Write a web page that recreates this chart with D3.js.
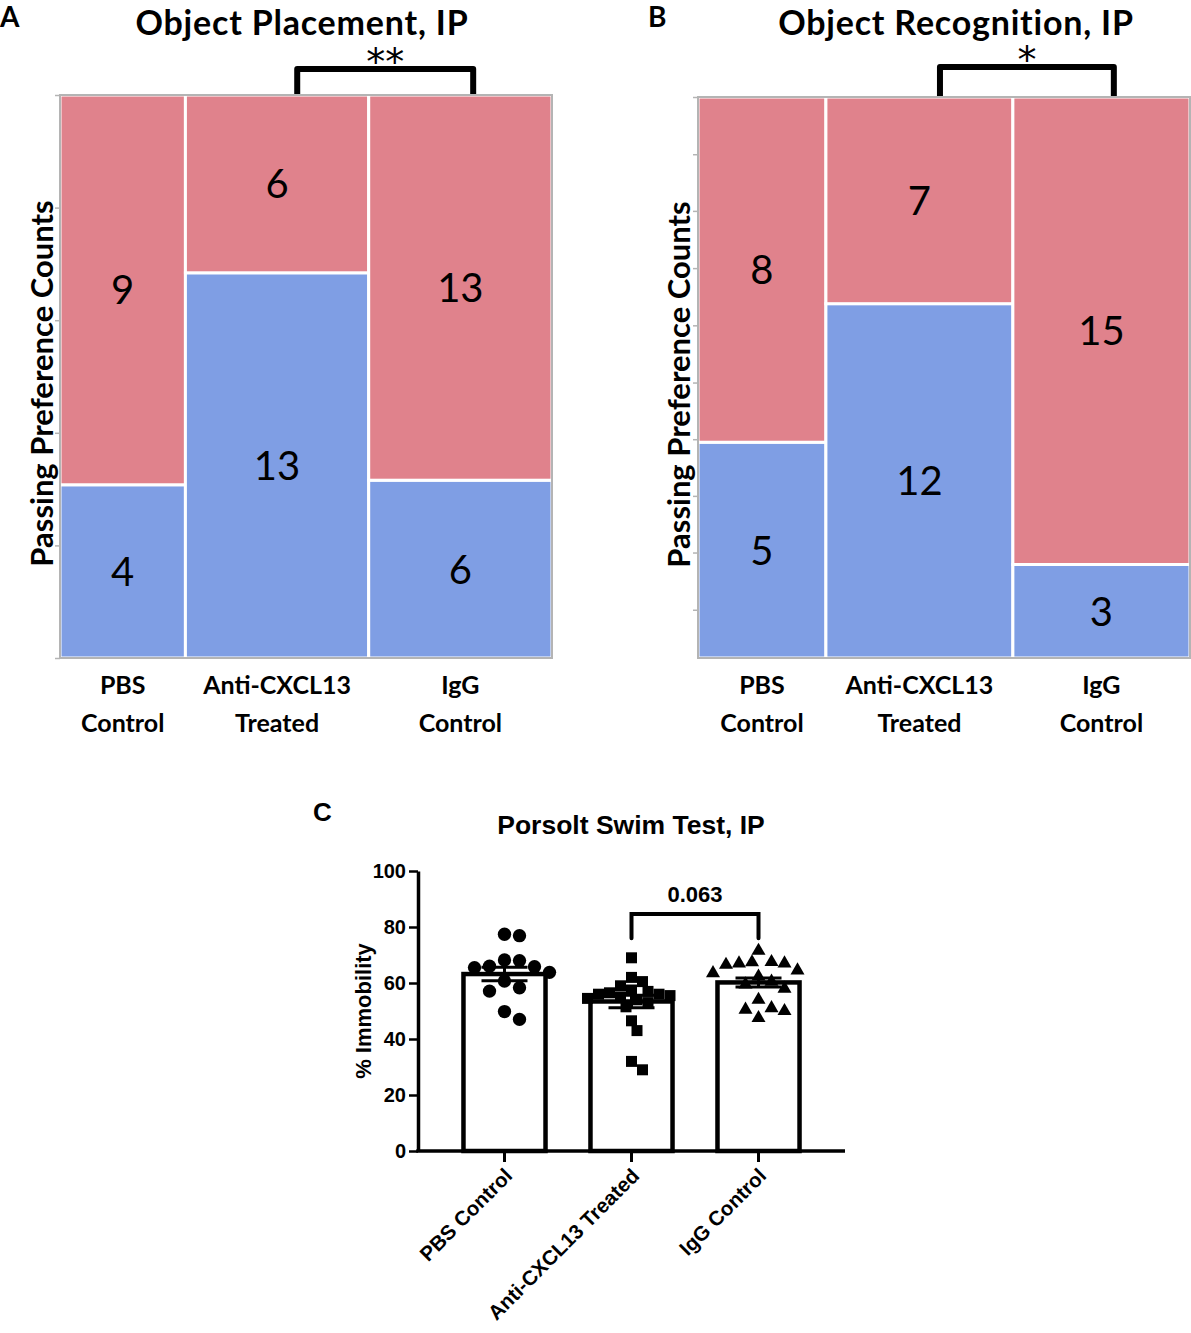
<!DOCTYPE html>
<html>
<head>
<meta charset="utf-8">
<script src="https://cdn.jsdelivr.net/npm/d3@7"></script>
<style>
body{margin:0;background:#fff;}
.mos{font-family:Lato,"Open Sans",sans-serif;}
.prism{font-family:"Liberation Sans",Arial,sans-serif;font-weight:bold;}
</style>
</head>
<body>
<div id="chart"></div>
<script>
var w = 1191;
var h = 1333;

// groups
var groups = ["PBS Control", "Anti-CXCL13 Treated", "IgG Control"];
var groupLines = [["PBS", "Control"], ["Anti-CXCL13", "Treated"], ["IgG", "Control"]];

// A: object placement counts
var placeBlue = [4, 13, 6];
var placeRed = [9, 6, 13];
// B: object recognition counts
var recogBlue = [5, 12, 3];
var recogRed = [8, 7, 15];

var mosTicksA = [0, 0.2, 0.4, 0.6, 0.8, 1];
var mosTicksB = [0.086, 0.188, 0.289, 0.39, 0.491, 0.593, 0.695, 0.797, 0.898, 1];

// C: porsolt swim test, % immobility
var pbsImmob = [77.4, 76.9, 68.2, 68, 66, 65.8, 65.5, 63.8, 60.7, 58.3, 57.1, 49.8, 47];
var antiImmob = [69, 62, 60.5, 59, 57.5, 57, 56.5, 56, 56, 55.5, 55, 54.5, 54, 53, 51.5, 46.5, 43, 32, 29];
var iggImmob = [71.5, 67.5, 67.4, 67, 67, 66.5, 64.5, 63.5, 62.3, 60.5, 59.5, 58, 54, 51, 50.5, 50, 47.5];
var immobMean = [63.2, 53.4, 60.2];
var immobSem = [2.4, 2.2, 1.6];
var immobTicks = [0, 20, 40, 60, 80, 100];

var pink = "#e0828c";
var blue = "#7f9ee4";
var grey = "#b4b4b4";

var svg = d3.select("#chart").append("svg")
  .attr("width", w)
  .attr("height", h);

function drawMosaic(opt){
  var n = opt.blue.map(function(d, i){ return d + opt.red[i]; });
  var cum = [0];
  for (var i = 0; i < n.length; i++) cum.push(cum[i] + n[i]);

  var xScale = d3.scaleLinear().domain([0, cum[n.length]]).range([opt.left, opt.right]);
  var yScale = d3.scaleLinear().domain([0, 1]).range([opt.bottom, opt.top]);

  var g = svg.append("g").attr("class", "mos");

  var cells = [];
  for (var i = 0; i < n.length; i++){
    var f = opt.blue[i] / n[i];
    cells.push({x0: cum[i], x1: cum[i + 1], y0: 0, y1: f, c: blue, v: opt.blue[i]});
    cells.push({x0: cum[i], x1: cum[i + 1], y0: f, y1: 1, c: pink, v: opt.red[i]});
  }

  g.selectAll("rect.cell").data(cells).enter().append("rect")
    .attr("class", "cell")
    .attr("x", function(d){ return xScale(d.x0); })
    .attr("y", function(d){ return yScale(d.y1); })
    .attr("width", function(d){ return xScale(d.x1) - xScale(d.x0); })
    .attr("height", function(d){ return yScale(d.y0) - yScale(d.y1); })
    .attr("fill", function(d){ return d.c; })
    .attr("stroke", "#fff")
    .attr("stroke-width", 3);

  g.selectAll("text.cnt").data(cells).enter().append("text")
    .attr("class", "cnt")
    .attr("x", function(d){ return (xScale(d.x0) + xScale(d.x1)) / 2; })
    .attr("y", function(d){ return (yScale(d.y0) + yScale(d.y1)) / 2; })
    .attr("dy", "0.36em")
    .attr("text-anchor", "middle")
    .style("font-size", "40px")
    .text(function(d){ return d.v; });

  // frame
  g.append("rect")
    .attr("x", opt.left).attr("y", opt.top)
    .attr("width", opt.right - opt.left).attr("height", opt.bottom - opt.top)
    .attr("fill", "none").attr("stroke", grey).attr("stroke-width", 2);

  var ax = g.append("g")
    .attr("transform", "translate(" + opt.left + ",0)")
    .call(d3.axisLeft(yScale).tickValues(opt.ticks).tickFormat("").tickSize(5).tickSizeOuter(0));
  ax.select(".domain").remove();
  ax.selectAll("line").attr("stroke", grey).attr("stroke-width", 1.5);

  // category labels
  for (var i = 0; i < n.length; i++){
    var cx = (xScale(cum[i]) + xScale(cum[i + 1])) / 2;
    var t = g.append("text")
      .attr("text-anchor", "middle")
      .style("font-size", "25px")
      .style("font-weight", "bold");
    t.append("tspan").attr("x", cx).attr("y", opt.bottom + 36).text(groupLines[i][0]);
    t.append("tspan").attr("x", cx).attr("y", opt.bottom + 74).text(groupLines[i][1]);
  }

  // y label
  g.append("text")
    .attr("transform", "translate(" + opt.ylabX + "," + ((opt.top + opt.bottom) / 2 + 7) + ") rotate(-90)")
    .attr("text-anchor", "middle")
    .style("font-size", "31px")
    .style("font-weight", "bold")
    .text("Passing Preference Counts");

  // title + panel letter
  g.append("text")
    .attr("x", opt.titleX).attr("y", 35)
    .attr("text-anchor", "middle")
    .style("font-size", "34px")
    .style("font-weight", "bold")
    .style("letter-spacing", "0.8px")
    .text(opt.title);
  g.append("text")
    .attr("x", opt.letterX).attr("y", 27)
    .style("font-size", "28px")
    .style("font-weight", "bold")
    .text(opt.letter);

  // significance bracket between anti-CXCL13 and IgG
  var bx1 = xScale(cum[1] + 0.61 * n[1]);
  var bx2 = xScale(cum[2] + 0.57 * n[2]);
  g.append("path")
    .attr("d", "M" + bx1 + "," + (opt.top - 1) + "V" + opt.brY + "H" + bx2 + "V" + (opt.top - 1))
    .attr("fill", "none")
    .attr("stroke", "#000")
    .attr("stroke-width", 6)
    .attr("stroke-linejoin", "round");
  g.append("text")
    .attr("x", (bx1 + bx2) / 2).attr("y", opt.brY + 6)
    .attr("text-anchor", "middle")
    .style("font-family", "'DejaVu Sans'")
    .style("font-size", "38px")
    .text(opt.sig);
}

drawMosaic({blue: placeBlue, red: placeRed, ticks: mosTicksA,
  left: 60, right: 552, top: 95, bottom: 658,
  ylabX: 53, title: "Object Placement, IP", titleX: 302, letter: "A", letterX: 0,
  brY: 69, sig: "**"});

drawMosaic({blue: recogBlue, red: recogRed, ticks: mosTicksB,
  left: 698, right: 1190, top: 97, bottom: 658,
  ylabX: 690, title: "Object Recognition, IP", titleX: 956, letter: "B", letterX: 648,
  brY: 67, sig: "*"});

// ---------- C: swim test ----------
var cLeft = 418, cRight = 845, cTop = 871, cBottom = 1151;
var xC = d3.scaleBand().domain(groups).range([cLeft, cRight]).paddingInner(0.354).paddingOuter(0.358);
var yC = d3.scaleLinear().domain([0, 100]).range([cBottom, cTop]);

var gc = svg.append("g").attr("class", "prism");

gc.append("text").attr("x", 313).attr("y", 821).style("font-size", "26px").text("C");
gc.append("text").attr("x", 631).attr("y", 834).attr("text-anchor", "middle")
  .style("font-size", "26.5px").text("Porsolt Swim Test, IP");

// bars
gc.selectAll("rect.bar").data(groups).enter().append("rect")
  .attr("class", "bar")
  .attr("x", function(d){ return xC(d); })
  .attr("y", function(d, i){ return yC(immobMean[i]); })
  .attr("width", xC.bandwidth())
  .attr("height", function(d, i){ return yC(0) - yC(immobMean[i]); })
  .attr("fill", "#fff")
  .attr("stroke", "#000")
  .attr("stroke-width", 4.5);

// scatter points, simple greedy swarm so they do not pile up
function swarm(vals, cx, minDist, step){
  var placed = [];
  vals.forEach(function(v){
    var py = yC(v);
    for (var k = 0; k < 60; k++){
      var off = (k % 2 === 1 ? 1 : -1) * Math.ceil(k / 2) * step;
      var px = cx + off;
      var hit = placed.some(function(p){
        var dx = p.x - px, dy = p.y - py;
        return Math.sqrt(dx * dx + dy * dy) < minDist;
      });
      if (!hit){ placed.push({x: px, y: py}); break; }
    }
  });
  return placed;
}

var shapes = [d3.symbolCircle, d3.symbolSquare, d3.symbolTriangle];
var shapeSize = [140, 121, 85];
var spacing = [15, 11, 13];
[pbsImmob, antiImmob, iggImmob].forEach(function(vals, i){
  var cx = xC(groups[i]) + xC.bandwidth() / 2;
  var pts = swarm(vals, cx, spacing[i], spacing[i] / 2);
  gc.selectAll("path.pt" + i).data(pts).enter().append("path")
    .attr("class", "pt" + i)
    .attr("transform", function(d){ return "translate(" + d.x + "," + d.y + ")"; })
    .attr("d", d3.symbol().type(shapes[i]).size(shapeSize[i]))
    .attr("fill", "#000");
});

// mean +- sem
groups.forEach(function(gname, i){
  var cx = xC(gname) + xC.bandwidth() / 2;
  var hw = 23;
  var hi = yC(immobMean[i] + immobSem[i]), lo = yC(immobMean[i] - immobSem[i]);
  gc.append("path")
    .attr("d", "M" + (cx - hw) + "," + hi + "H" + (cx + hw) + "M" + cx + "," + hi + "V" + lo +
      "M" + (cx - hw) + "," + lo + "H" + (cx + hw))
    .attr("stroke", "#000").attr("stroke-width", 3).attr("fill", "none");
});

// axes
var yAx = gc.append("g")
  .attr("transform", "translate(" + cLeft + ",0)")
  .call(d3.axisLeft(yC).tickValues(immobTicks).tickSize(9).tickSizeOuter(0).tickPadding(3));
yAx.select(".domain").attr("stroke-width", 3.5);
yAx.selectAll("line").attr("stroke-width", 2.5);
yAx.selectAll("text").style("font-size", "20px").style("font-family", "Liberation Sans").style("font-weight", "bold");

var xAx = gc.append("g")
  .attr("transform", "translate(0," + cBottom + ")")
  .call(d3.axisBottom(xC).tickSize(11).tickSizeOuter(0).tickPadding(4));
xAx.select(".domain").remove();
xAx.selectAll("line").attr("stroke-width", 3);
xAx.selectAll("text")
  .style("font-size", "20.5px").style("font-family", "Liberation Sans").style("font-weight", "bold")
  .attr("text-anchor", "end")
  .attr("transform", "translate(4,21) rotate(-45)")
  .attr("dy", "0.35em").attr("y", 0);
gc.append("line")
  .attr("x1", cLeft - 1.75).attr("x2", cRight)
  .attr("y1", cBottom).attr("y2", cBottom)
  .attr("stroke", "#000").attr("stroke-width", 3.5);

gc.append("text")
  .attr("transform", "translate(371," + ((cTop + cBottom) / 2) + ") rotate(-90)")
  .attr("text-anchor", "middle")
  .style("font-size", "22px")
  .text("% Immobility");

// bracket anti vs IgG
var c1 = xC(groups[1]) + xC.bandwidth() / 2, c2 = xC(groups[2]) + xC.bandwidth() / 2;
gc.append("path")
  .attr("d", "M" + c1 + "," + yC(76) + "V" + yC(84.6) + "H" + c2 + "V" + yC(76))
  .attr("fill", "none").attr("stroke", "#000").attr("stroke-width", 4)
  .attr("stroke-linecap", "round");
gc.append("text")
  .attr("x", (c1 + c2) / 2).attr("y", yC(89))
  .attr("text-anchor", "middle")
  .style("font-size", "22px")
  .text("0.063");
</script>
</body>
</html>
